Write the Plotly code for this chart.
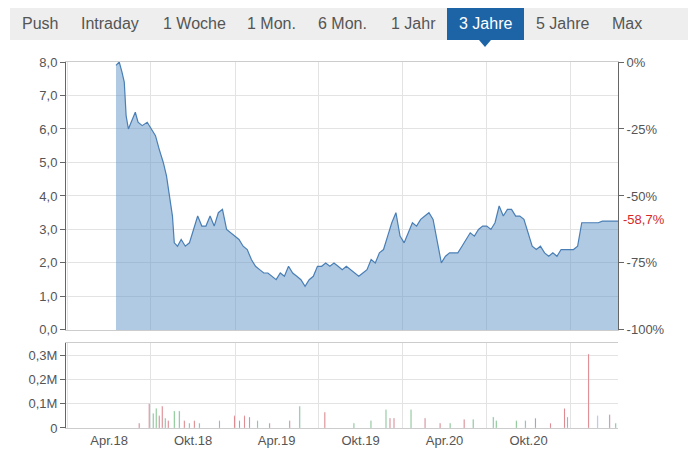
import pandas as pd
import plotly.graph_objects as go

price1_dates = ["2018-04-16","2018-04-23","2018-04-29","2018-05-04","2018-05-08","2018-05-13","2018-05-19",
                "2018-05-28","2018-06-03","2018-06-12","2018-06-23","2018-07-02","2018-07-11","2018-07-19",
                "2018-07-28","2018-08-04","2018-08-10","2018-08-17","2018-08-21","2018-08-28"]
price1 = [7.9,8.0,7.7,7.4,6.4,6.0,6.2,6.5,6.2,6.1,6.2,6.0,5.8,5.4,5.0,4.6,4.0,3.4,2.6,2.5]
price2_start = "2018-09-05"
price2 = [2.7,2.5,2.6,3.0,3.4,3.1,3.1,3.4,3.1,3.5,3.6,3.0,2.9,2.8,2.7,2.5,2.4,2.1,1.9,1.8,1.7,1.7,1.6,1.5,
          1.7,1.6,1.9,1.7,1.6,1.5,1.3,1.5,1.6,1.9,1.9,2.0,1.9,2.0,1.9,1.8,1.9,1.8,1.7,1.6,1.7,1.8,2.1,2.0,
          2.3,2.4,2.8,3.2,3.5,2.8,2.6,2.9,3.2,3.1,3.3,3.4,3.5,3.3,2.6,2.0,2.2,2.3,2.3,2.3,2.5,2.7,2.9,2.8,
          3.0,3.1,3.1,3.0,3.2,3.7,3.4,3.6,3.6,3.4,3.4,3.3,2.9,2.5,2.4,2.5,2.3,2.2,2.3,2.2,2.4,2.4,2.4,2.4,
          2.5,3.2,3.2,3.2,3.2,3.2,3.25,3.25,3.25,3.25,3.25,3.25,3.2,3.3]

vol_days = [50,60,140,150,154,157,160,163,166,169,175,180,185,190,195,200,220,235,240,245,250,258,270,290,
            300,325,354,371,386,390,394,411,425,440,450,464,473,493,496,516,525,535,550,564,567,588,597,609,615]
vol_vals = [5e3,1.5e4,2e4,1e5,6e4,8e4,5e4,9e4,4e4,3e4,7e4,7e4,3e4,2e4,3e4,2e4,3e4,5e4,3e4,5e4,4.5e4,3e4,2e4,
            3e4,9e4,6.5e4,2e4,3e4,7.5e4,4e4,4e4,7.5e4,4e4,2e4,2e4,3.5e4,3.5e4,4.5e4,3e4,3e4,3e4,4e4,2e4,8e4,
            4.5e4,3.05e5,5e4,5.5e4,2e4]
vol_cols = ["g","r","r","r","g","g","r","r","g","r","g","g","r","g","r","g","g","r","r","r","r","g","r","r",
            "g","r","g","g","g","r","r","g","r","r","g","r","g","g","g","g","g","r","r","r","g","r","b","r","g"]

dates = list(pd.to_datetime(price1_dates)) + list(pd.date_range(price2_start, periods=len(price2), freq="9D"))
prices = price1 + price2
vdates = [pd.Timestamp("2018-04-01") + pd.Timedelta(days=(d - 110) * 2.186) for d in vol_days]
cmap = {"g": "#2ca02c", "r": "#d62728", "b": "#7aa6d6"}

fig = go.Figure()
fig.add_trace(go.Scatter(x=dates, y=prices, mode="lines", fill="tozeroy",
                         line=dict(color="#4a7fb5", width=1.2), fillcolor="rgba(100,150,200,0.5)",
                         xaxis="x", yaxis="y", hoverinfo="skip"))
fig.add_trace(go.Scatter(x=dates, y=prices, mode="lines", line=dict(width=0), opacity=0,
                         xaxis="x", yaxis="y3", hoverinfo="skip"))
fig.add_trace(go.Bar(x=vdates, y=vol_vals, marker_color=[cmap[c] for c in vol_cols],
                     width=86400000 * 2, xaxis="x2", yaxis="y2"))

xr = ["2017-12-28", "2021-04-14"]
grid = "#e3e3e3"
fig.update_layout(
    width=696, height=460, showlegend=False, separators=",.",
    margin=dict(l=58, r=86, t=54, b=40),
    paper_bgcolor="white", plot_bgcolor="white",
    font=dict(family="Liberation Sans, Arial", size=13, color="#555"),
    xaxis=dict(range=xr, type="date", domain=[0, 1], anchor="y", showticklabels=False,
               showgrid=True, gridcolor=grid, tick0="2018-07-01", dtick="M6",
               showline=True, linecolor="#ccc", mirror=True, ticks=""),
    yaxis=dict(range=[0, 8], domain=[0.268, 1], tickvals=[0, 1, 2, 3, 4, 5, 6, 7, 8],
               ticktext=["0,0", "1,0", "2,0", "3,0", "4,0", "5,0", "6,0", "7,0", "8,0"],
               showgrid=True, gridcolor=grid, ticks="outside", ticklen=5, tickcolor="#666",
               showline=True, linecolor="#666", zeroline=False),
    yaxis3=dict(range=[0, 8], overlaying="y", side="right", anchor="x",
                tickvals=[0, 2, 4, 6, 8], ticktext=["-100%", "-75%", "-50%", "-25%", "0%"],
                ticks="outside", ticklen=5, tickcolor="#666", showgrid=False,
                showline=True, linecolor="#666", zeroline=False),
    xaxis2=dict(range=xr, type="date", domain=[0, 1], anchor="y2",
                tickvals=["2018-04-01", "2018-10-01", "2019-04-01", "2019-10-01", "2020-04-01", "2020-10-01"],
                ticktext=["Apr.18", "Okt.18", "Apr.19", "Okt.19", "Apr.20", "Okt.20"],
                showgrid=False, ticks="", showline=True, linecolor="#ccc", mirror=True,
                minor=dict(tick0="2018-07-01", dtick="M6", showgrid=True, gridcolor=grid)),
    yaxis2=dict(range=[0, 3.5e5], domain=[0, 0.232], tickvals=[0, 1e5, 2e5, 3e5],
                ticktext=["0", "0,1M", "0,2M", "0,3M"], showgrid=True, gridcolor=grid,
                ticks="outside", ticklen=5, tickcolor="#666", showline=True, linecolor="#666",
                zeroline=False),
)

W, H = 552, 366
def px(x): return (x - 66) / W
def py(y): return 1 + (62 - y) / H

shapes = [
    dict(type="rect", xref="paper", yref="paper", x0=px(10), x1=px(696), y0=py(40), y1=py(6),
         fillcolor="#eeeeee", line=dict(width=0), layer="below"),
    dict(type="rect", xref="paper", yref="paper", x0=px(447), x1=px(524), y0=py(40), y1=py(6),
         fillcolor="#1d64a6", line=dict(width=0)),
    dict(type="path", xref="paper", yref="paper",
         path=f"M {px(479)} {py(40)} L {px(491)} {py(40)} L {px(485)} {py(47)} Z",
         fillcolor="#1d64a6", line=dict(width=0)),
]
fig.update_layout(shapes=shapes)
tabs = [("Push", 40), ("Intraday", 110), ("1 Woche", 194), ("1 Mon.", 271), ("6 Mon.", 342),
        ("1 Jahr", 413), ("3 Jahre", 485), ("5 Jahre", 562), ("Max", 627)]
for t, x in tabs:
    fig.add_annotation(text=t, xref="paper", yref="paper", x=px(x), y=py(23), showarrow=False,
                       xanchor="center", yanchor="middle",
                       font=dict(size=16, color="white" if t == "3 Jahre" else "#555"))
fig.add_annotation(text="-58,7%", xref="paper", yref="y", x=px(621), y=3.3, xanchor="left",
                   yanchor="middle", showarrow=False, font=dict(size=13, color="#d62728"))
fig.write_html("out.html")
